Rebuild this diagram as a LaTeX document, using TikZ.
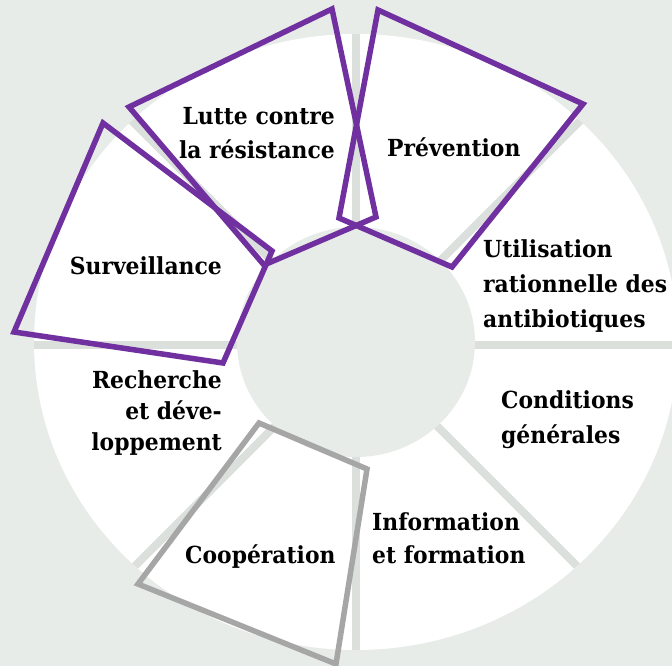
\documentclass[tikz,border=0pt]{standalone}
\usepackage{fontspec}
\newfontfamily\lblfont{DejaVu Serif}[FakeStretch=0.93]
\definecolor{bg}{HTML}{E8ECE9}
\definecolor{gapc}{HTML}{DCE0DD}
\definecolor{hlpurple}{HTML}{7030A0}
\definecolor{hlgray}{HTML}{A6A6A6}
\begin{document}
\begin{tikzpicture}[x=1pt,y=-1pt,
  lbl/.style={font=\lblfont\bfseries\fontsize{23.5}{33}\selectfont, text=black, inner sep=0pt},
  hl/.style={line width=5.5pt, line join=miter, draw=hlpurple},
  hlg/.style={hl, draw=hlgray}]
\useasboundingbox (0,0) rectangle (672,666);
\fill[bg] (0,0) rectangle (672,666);
% ring of eight sectors
\coordinate (c) at (356,342);
\coordinate (g) at (356,345);
\fill[white] (c) ellipse [x radius=322, y radius=308];
\begin{scope}
  \clip (c) ellipse [x radius=322, y radius=308];
  \foreach \a in {0,45,...,315}
    \draw[gapc, line width=8pt] (g) -- ++(\a:400);
\end{scope}
\fill[bg] (c) ellipse [x radius=119, y radius=115];
% highlighted sectors
\draw[hl] (332,9) -- (129,107) -- (264,265) -- (376,217) -- cycle;
\draw[hl] (378,10) -- (583,104) -- (452,267) -- (339,218) -- cycle;
\draw[hl] (103,123) -- (14,332) -- (223,363) -- (272,251) -- cycle;
\draw[hlg] (259,423) -- (367,469) -- (336,664) -- (138,584) -- cycle;
% sector labels (base anchor sits on the last line)
\node[lbl, align=right, anchor=base east] (lutte) at (335,158) {Lutte contre\\la résistance};
\node[lbl, anchor=base west] (prev) at (387,157) {Prévention};
\node[lbl, align=left, anchor=base west, font=\lblfont\bfseries\fontsize{23.5}{35}\selectfont] (util) at (483,327) {Utilisation\\rationnelle des\\antibiotiques};
\node[lbl, align=left, anchor=base west, font=\lblfont\bfseries\fontsize{23.5}{35}\selectfont] (cond) at (501,443) {Conditions\\générales};
\node[lbl, align=left, anchor=base west] (info) at (372,563) {Information\\et formation};
\node[lbl, anchor=base west] (coop) at (185,563) {Coopération};
\node[lbl, align=right, anchor=base east, font=\lblfont\bfseries\fontsize{23.5}{31}\selectfont] (rech) at (222,450) {Recherche\\et déve-\\loppement};
\node[lbl, anchor=base east] (surv) at (222,274) {Surveillance};
\end{tikzpicture}
\end{document}
